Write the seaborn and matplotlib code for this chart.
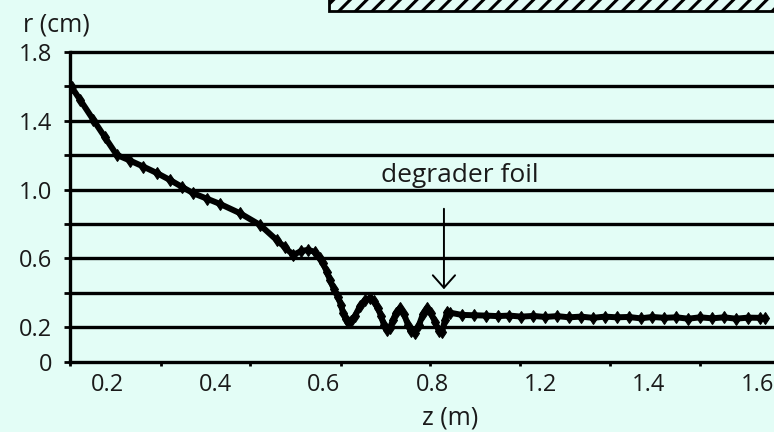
import matplotlib
matplotlib.use("Agg")
import matplotlib.pyplot as plt
import seaborn as sns
import pandas as pd
from matplotlib.patches import Rectangle

# ---- data ----
z_vals = [0.1348, 0.1502, 0.1747, 0.1963, 0.2179, 0.2425, 0.2670, 0.2917, 0.3163, 0.3379,
          0.3593, 0.3840, 0.4086, 0.4455, 0.4824, 0.5133, 0.5286, 0.5439, 0.5581, 0.5711,
          0.5840, 0.5932, 0.5987, 0.6061, 0.6117, 0.6191, 0.6264, 0.6320, 0.6357, 0.6412,
          0.6449, 0.6504, 0.6578, 0.6671, 0.6763, 0.6855, 0.6929, 0.7003, 0.7058, 0.7114,
          0.7169, 0.7224, 0.7280, 0.7335, 0.7409, 0.7483, 0.7557, 0.7612, 0.7686, 0.7760,
          0.7833, 0.7907, 0.7981, 0.8055, 0.8129, 0.8184, 0.8240, 0.8277,
          0.8332, 0.8550, 0.8770, 0.8990, 0.9210, 0.9430, 0.9650, 0.9870, 1.0090, 1.0310,
          1.0530, 1.0750, 1.0970, 1.1190, 1.1410, 1.1630, 1.1850, 1.2070, 1.2290, 1.2510,
          1.2730, 1.2950, 1.3170, 1.3390, 1.3610, 1.3830, 1.4050, 1.4147]
r_vals = [1.595, 1.523, 1.406, 1.304, 1.202, 1.169, 1.134, 1.097, 1.056, 1.017,
          0.979, 0.948, 0.917, 0.863, 0.795, 0.707, 0.664, 0.620, 0.643, 0.650,
          0.638, 0.600, 0.574, 0.520, 0.475, 0.420, 0.376, 0.330, 0.283, 0.248,
          0.231, 0.236, 0.265, 0.324, 0.359, 0.370, 0.353, 0.312, 0.266, 0.213,
          0.184, 0.196, 0.242, 0.283, 0.312, 0.277, 0.213, 0.178, 0.167, 0.213,
          0.277, 0.312, 0.283, 0.231, 0.178, 0.173, 0.242, 0.289,
          0.285, 0.272, 0.270, 0.268, 0.265, 0.268, 0.262, 0.266, 0.260, 0.265,
          0.258, 0.262, 0.255, 0.262, 0.258, 0.260, 0.252, 0.260, 0.255, 0.258,
          0.250, 0.258, 0.252, 0.258, 0.250, 0.256, 0.255, 0.255]

y_ticks = [0, 0.2, 0.4, 0.6, 0.8, 1.0, 1.2, 1.4, 1.6, 1.8]
y_tick_labels = ["0", "0.2", "", "0.6", "", "1.0", "", "1.4", "", "1.8"]
x_label_pos = [0.2, 0.4, 0.6, 0.8, 1.0, 1.2, 1.4]
x_tick_labels = ["0.2", "0.4", "0.6", "0.8", "1.2", "1.4", "1.6"]
x_mark_pos = [0.1317, 0.2997, 0.4640, 0.6320, 0.7963, 0.9625, 1.1286, 1.2948]
foil_z = 0.822

BG = "#E3FDF6"
TXT = "#1a1a1a"
FONT = ["Open Sans", "DejaVu Sans"]

sns.set_theme(style="white")
plt.rcParams["font.family"] = FONT
plt.rcParams["hatch.linewidth"] = 2.2

W, H = 774, 432
fig = plt.figure(figsize=(W / 100, H / 100), dpi=100, facecolor=BG)
ax = fig.add_axes([70 / W, (H - 361.7) / H, 1 - 70 / W, (361.7 - 52) / H])
ax.set_facecolor(BG)

df = pd.DataFrame({"z": z_vals, "r": r_vals})
sns.lineplot(data=df, x="z", y="r", sort=False, estimator=None, ax=ax,
             color="black", linewidth=4.3, marker="d", markersize=6,
             markeredgecolor="black", zorder=5)

ax.set_xlim(0.1317, 1.4313)
ax.set_ylim(0, 1.8)

for yv in y_ticks[1:]:
    ax.axhline(yv, color="black", linewidth=2.4, zorder=2, clip_on=False)

ax.set_yticks(y_ticks)
ax.set_yticklabels(y_tick_labels, fontsize=17, color=TXT)
ax.set_xticks(x_label_pos)
ax.set_xticklabels(x_tick_labels, fontsize=17, color=TXT)
ax.set_xticks(x_mark_pos, minor=True)
ax.tick_params(axis="x", which="major", length=0, pad=8)
ax.tick_params(axis="x", which="minor", length=3, width=2, color="black", bottom=True)
ax.tick_params(axis="y", which="major", length=4, width=2, color="black", left=True, pad=9)

for s in ["top", "right"]:
    ax.spines[s].set_visible(False)
for s in ["left", "bottom"]:
    ax.spines[s].set_color("black")
    ax.spines[s].set_linewidth(2.4)
ax.set_xlabel("")
ax.set_ylabel("")

# annotation
ax.annotate("", xy=(foil_z, 0.405), xytext=(foil_z, 0.905),
            arrowprops=dict(arrowstyle="->, head_length=0.45, head_width=0.4",
                            mutation_scale=20, color="black", lw=1.4), zorder=6)
ax.text(0.8507, 1.047, "degrader foil", ha="center", va="baseline", fontsize=19, color=TXT)

fig.text(23 / W, 1 - 25 / H, "r (cm)", ha="left", va="center", fontsize=18, color=TXT)
fig.text(450 / W, 1 - 418 / H, "z (m)", ha="center", va="center", fontsize=18, color=TXT)

rect = Rectangle((329 / W, 1 - 11 / H), 1.0, 0.1, transform=fig.transFigure,
                 facecolor=BG, edgecolor="black", hatch="//", linewidth=2, clip_on=False)
fig.add_artist(rect)

fig.savefig("out.png", dpi=100, facecolor=BG)
